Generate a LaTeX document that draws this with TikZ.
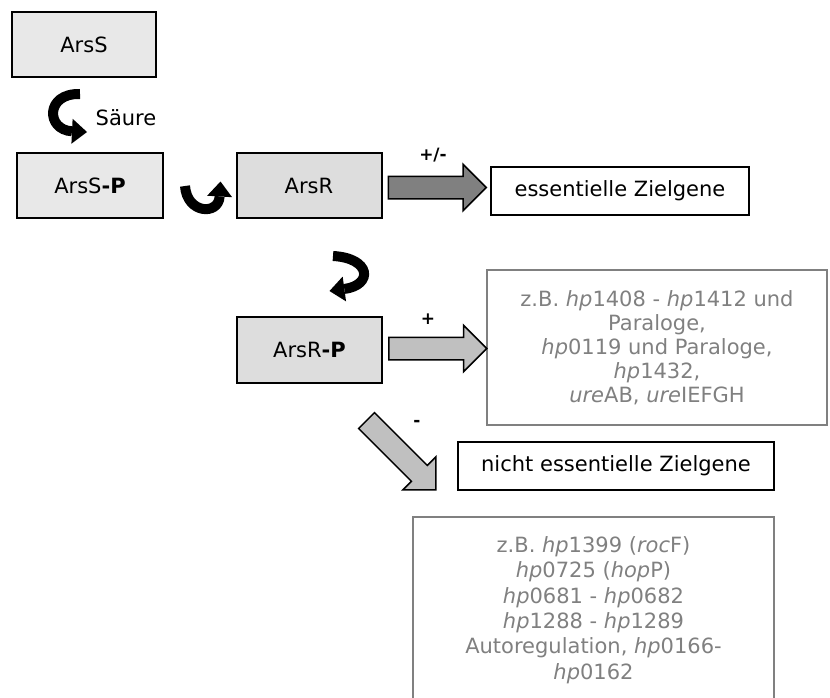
\documentclass[tikz,border=0pt]{standalone}
\usepackage{fontspec}
\setmainfont{DejaVu Sans}
\usepackage{xcolor}
\usetikzlibrary{arrows.meta}
\usetikzlibrary{calc}
\usetikzlibrary{shapes.arrows}

\definecolor{boxlight}{HTML}{E8E8E8}
\definecolor{boxmid}{HTML}{DDDDDD}
\definecolor{arrowdark}{HTML}{808080}
\definecolor{arrowlight}{HTML}{C0C0C0}
\definecolor{genegray}{HTML}{808080}

\begin{document}
\begin{tikzpicture}[x=1pt,y=-1pt,
    font=\fontsize{21}{24}\selectfont,
    protein/.style={draw,line width=2pt,minimum width=145pt,minimum height=65pt,inner sep=0pt},
    target/.style={draw,line width=2pt,fill=white,minimum height=48pt,inner sep=0pt},
    genes/.style={draw=genegray,text=genegray,line width=2pt,align=center,inner sep=0pt},
    sign/.style={font=\fontsize{17}{19}\selectfont\bfseries},
    blockarrow/.style={single arrow,draw,line width=1.5pt,minimum height=98pt,minimum width=45pt,
      single arrow head extend=12pt,inner xsep=0pt,inner ysep=10.5pt,anchor=tail},
    curlarrow/.style={line width=10pt,-{Triangle[width=25pt,length=15pt,line width=0pt]}}]
  \useasboundingbox (0,0) rectangle (830,698);
  \clip (0,0) rectangle (830,698);

  \node[protein,fill=boxlight,minimum width=144pt] (arss) at (84,44.5) {ArsS};
  \node[protein,fill=boxlight,minimum width=146pt] (arssp) at (90,185.5) {ArsS\textbf{-P}};
  \node[protein,fill=boxmid] (arsr) at (309,185.5) {ArsR};
  \node[protein,fill=boxmid,minimum height=66pt] (arsrp) at (309.5,350) {ArsR\textbf{-P}};
  \node (saeure) at (126,118) {Säure};

  \node[target,minimum width=258pt] (ess) at (620,191) {essentielle Zielgene};
  \node[target,minimum width=316pt] (ness) at (616,466) {nicht essentielle Zielgene};
  \node[genes,minimum width=340pt,minimum height=155pt] (posgenes) at (657,347.5)
    {z.B. \textit{hp}1408 - \textit{hp}1412 und\\Paraloge,\\\textit{hp}0119 und Paraloge,\\
     \textit{hp}1432,\\\textit{ure}AB, \textit{ure}IEFGH};
  \node[genes,minimum width=361pt,minimum height=186pt,font=\fontsize{21}{25.3}\selectfont] (neggenes) at (593.5,610)
    {z.B. \textit{hp}1399 (\textit{roc}F)\\\textit{hp}0725 (\textit{hop}P)\\\textit{hp}0681 - \textit{hp}0682\\
     \textit{hp}1288 - \textit{hp}1289\\Autoregulation, \textit{hp}0166-\\\textit{hp}0162};

  \draw[curlarrow] ($(arss.south)+(-4,16)$) .. controls +(-35,-1) and +(-41,-2) .. ($(arssp.north)+(-3,-20)$);
  \draw[curlarrow] ($(arssp.east)+(21,0.5)$) .. controls +(2,28) and +(-2,34) .. ($(arsr.west)+(-15,-4)$);
  \draw[curlarrow] ($(arsr.south)+(24,37)$) .. controls +(38,2) and +(44,-6) .. ($(arsrp.north)+(20,-25)$);

  \node[blockarrow,fill=arrowdark] (toess) at ($(arsr.east)+(5,2)$) {};
  \node[blockarrow,fill=arrowlight] (topos) at ($(arsrp.east)+(5,-1.5)$) {};
  \node[blockarrow,fill=arrowlight,rotate=-45] (toneg) at ($(arsrp.south)+(56.5,36)$) {};

  \node[sign] (pm) at (433,155) {+/-};
  \node[sign] (plus) at (428,319) {+};
  \node[sign] (minus) at (417,423) {-};
\end{tikzpicture}
\end{document}
